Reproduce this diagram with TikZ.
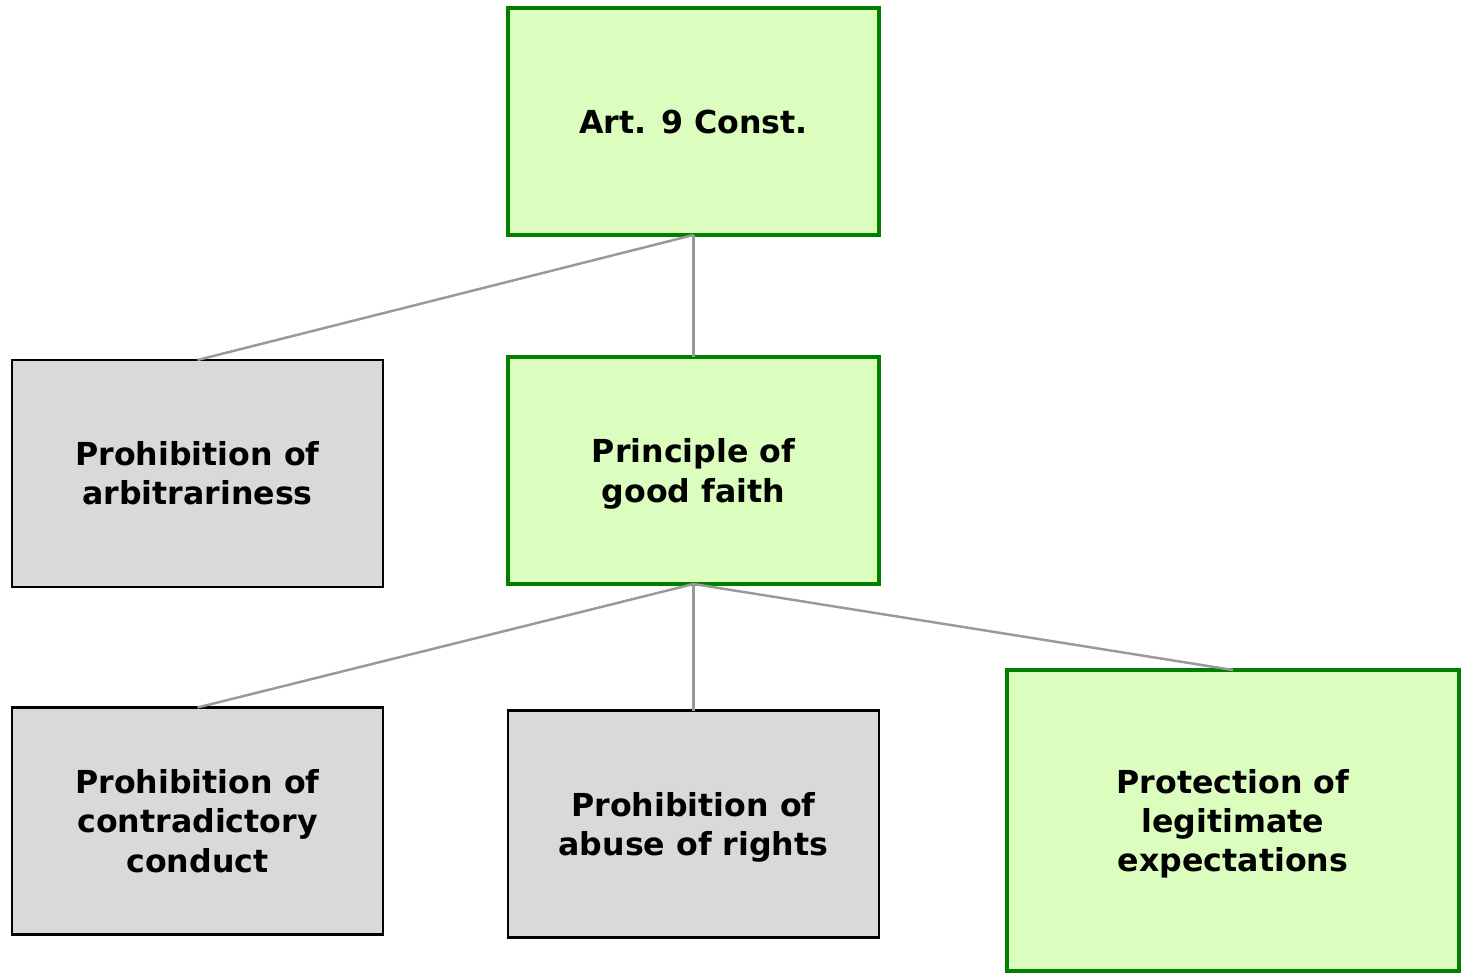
\documentclass[tikz,border=0pt]{standalone}
\usepackage{fontspec}
\setmainfont{DejaVu Sans}
\usetikzlibrary{positioning}
\definecolor{paleGreen}{HTML}{DBFDBD}
\definecolor{darkGreen}{HTML}{008000}
\definecolor{paleGray}{HTML}{D9D9D9}
\definecolor{lineGray}{HTML}{999999}

\begin{document}
\begin{tikzpicture}
          \tikzstyle{boxG} = [draw=darkGreen, line width=1.8pt, fill=paleGreen, outer sep=0pt,
            minimum width=7.42cm, minimum height=4.54cm, align=center,
            font=\bfseries\fontsize{18}{22.4}\selectfont]
          \tikzstyle{boxS} = [draw=black, line width=1.6pt, fill=paleGray, outer sep=0pt,
            minimum width=7.42cm, minimum height=4.54cm, align=center,
            font=\bfseries\fontsize{18}{22.4}\selectfont]
          \tikzstyle{line} = [draw=lineGray, line width=1.4pt]

          \useasboundingbox (0,0) rectangle (29.24,-19.46);

          \node(ArtNine)[boxG] at (13.87,-2.43) {Art. 9 Const.};

          \node(GoodFaith)[boxG, below=2.44cm of ArtNine] {Principle of\\ \smash{good faith}};
          \node(Arbitrariness)[boxS, left=2.5cm of GoodFaith, yshift=-0.06cm] {Prohibition of\\ arbitrariness};

          \node(Contradictory)[boxS, below=2.41cm of Arbitrariness] {Prohibition of\\ contradictory\\ conduct};
          \node(Abuse)[boxS, below=2.53cm of GoodFaith] {Prohibition of\\ \smash{abuse of rights}};
          \node(Expectations)[boxG, line width=2.3pt, minimum width=9.04cm, minimum height=6.02cm,
            right=2.56cm of Abuse, yshift=0.07cm] {Protection of\\ legitimate\\ \smash{expectations}};

          % connectors
          \path[line] (ArtNine.south) -- (Arbitrariness.north);
          \path[line] (ArtNine.south) -- (GoodFaith.north);
          \path[line] (GoodFaith.south) -- (Contradictory.north);
          \path[line] (GoodFaith.south) -- (Abuse.north);
          \path[line] (GoodFaith.south) -- (Expectations.north);
\end{tikzpicture}
\end{document}
